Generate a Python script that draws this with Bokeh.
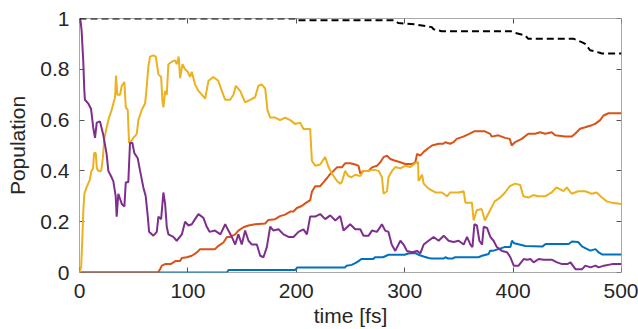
from bokeh.plotting import figure
from bokeh.models import Range1d, FixedTicker, LinearAxis, CustomJSTickFormatter
from bokeh.embed import file_html
from bokeh.resources import INLINE

# ---------------- data ----------------
x_ticks = [0, 100, 200, 300, 400, 500]
y_ticks = [0, 0.2, 0.4, 0.6, 0.8, 1]
x_label = "time [fs]"
y_label = "Population"

blue_t = [0, 136, 137.5, 199, 201, 245, 246.5, 251, 254.4, 257.4, 260, 271, 272.6, 280, 285, 288, 300,
          303.3, 309.5, 312.6, 317.5, 322, 325, 336, 337.5, 340, 344, 346.4, 368, 371.4, 377.5, 378.8,
          382, 386.5, 392, 397.5, 399, 401, 404, 411.4, 427, 430, 451.3, 454.3, 460, 463.5, 467, 471.2,
          476, 479, 482, 500]
blue_v = [0, 0, 0.01, 0.01, 0.02, 0.02, 0.027, 0.03, 0.037, 0.045, 0.053, 0.053, 0.06, 0.06, 0.07, 0.07, 0.07,
          0.075, 0.077, 0.07, 0.063, 0.057, 0.055, 0.055, 0.06, 0.055, 0.055, 0.06, 0.06, 0.066, 0.073, 0.086,
          0.086, 0.092, 0.10, 0.10, 0.125, 0.115, 0.112, 0.104, 0.102, 0.112, 0.112, 0.122, 0.12, 0.103, 0.095, 0.086,
          0.092, 0.079, 0.071, 0.071]

red_t = [0, 72.5, 74.3, 76, 79, 84, 88.5, 92.8, 94.4, 99, 103.6, 106.6, 109.7, 111.2, 125, 128.2, 132.8, 136,
         139, 143.6, 146.6, 151.2, 155.9, 162, 171.3, 174.3, 180.5, 185, 189.7, 194.4, 197.4, 200.5, 205,
         208.2, 212.8, 214.4, 217.4, 222, 225, 228, 231.3, 234.3, 237.5, 242, 245, 249.7, 254.4, 257.4, 259,
         262, 266.7, 269.8, 274.4, 277.5, 280.5, 283.7, 286.7, 291.3, 296, 300.5, 306.7, 309.8, 311.4, 314.4,
         317.5, 322, 325.2, 331.3, 335.6, 337.4, 342, 345, 348, 354, 359.5, 364, 374, 378.8, 380.2, 386.4,
         392.6, 397, 398.7, 401.8, 408, 414, 420.3, 425, 429.6, 435.6, 438.8, 448, 454, 457.2, 461.8, 466.5,
         472.5, 475.7, 480.3, 483.4, 488, 500]
red_v = [0, 0, 0.013, 0.027, 0.033, 0.033, 0.045, 0.045, 0.057, 0.06, 0.066, 0.074, 0.085, 0.092, 0.092, 0.105,
         0.118, 0.14, 0.14, 0.15, 0.165, 0.178, 0.185, 0.19, 0.193, 0.207, 0.21, 0.222, 0.228, 0.24, 0.24, 0.254,
         0.262, 0.272, 0.285, 0.318, 0.34, 0.34, 0.355, 0.37, 0.388, 0.40, 0.414, 0.414, 0.43, 0.43, 0.425, 0.42,
         0.39, 0.40, 0.40, 0.414, 0.42, 0.434, 0.454, 0.46, 0.447, 0.44, 0.434, 0.427, 0.427, 0.434, 0.467, 0.46,
         0.475, 0.49, 0.50, 0.507, 0.507, 0.513, 0.507, 0.513, 0.526, 0.535, 0.546, 0.556, 0.556, 0.546, 0.535,
         0.54, 0.53, 0.526, 0.50, 0.513, 0.526, 0.546, 0.546, 0.552, 0.546, 0.552, 0.54, 0.535, 0.535, 0.546,
         0.566, 0.572, 0.58, 0.585, 0.60, 0.618, 0.627, 0.627]

yellow_t = [0, 1.5, 2.5, 3.5, 4.5, 6.5, 9.5, 11, 12.5, 13.5, 15, 16, 17.5, 20, 21.5, 23, 25, 27.2, 29.7, 31.2,
            32.8, 33.7, 34.9, 37.4, 39, 41.4, 42.7, 44.5, 45.7, 48.2, 49.7, 52.8, 54.3, 57.4, 60.5, 62, 63.5,
            65.1, 68.1, 70.4, 72.8, 75.3, 76.5, 77.4, 79, 80.5, 82, 85.1, 88.2, 89.7, 91.5, 92.8, 95, 97.4,
            99.9, 102, 103.6, 106.6, 109.7, 112.8, 115.9, 119, 123.5, 128, 131.3, 134.4, 139, 142, 144.2, 148.2,
            152.8, 157.4, 162, 165, 168.2, 171.3, 173.4, 175.9, 180.5, 185, 189.7, 194.4, 198.9, 203.6, 206.6,
            212.8, 214.4, 217.4, 222, 226.7, 229.7, 232.9, 237.5, 240.5, 242, 245, 248, 251, 254.4, 259, 262,
            266.7, 271.3, 276, 279, 280.5, 283.7, 285, 288.3, 291.3, 296, 300.5, 305, 309.8, 312.3, 312.8, 316,
            317.5, 322, 328.3, 334.4, 339, 342, 349.8, 354.4, 356, 362, 363.6, 366.4, 371, 374, 377, 380, 383,
            388, 392.6, 397, 401.8, 406.5, 409.5, 414, 418.7, 423, 429.5, 435.6, 440, 446.5, 449.5, 454, 460,
            466.5, 472.5, 477, 482, 486.4, 491, 500]
yellow_v = [0, 0.02, 0.12, 0.24, 0.31, 0.335, 0.365, 0.40, 0.41, 0.47, 0.47, 0.41, 0.40, 0.40, 0.45, 0.53, 0.57,
            0.61, 0.64, 0.665, 0.69, 0.775, 0.70, 0.70, 0.735, 0.75, 0.65, 0.64, 0.51, 0.52, 0.53, 0.545, 0.60,
            0.64, 0.665, 0.73, 0.81, 0.85, 0.855, 0.85, 0.78, 0.77, 0.675, 0.65, 0.715, 0.70, 0.82, 0.83, 0.835,
            0.82, 0.85, 0.765, 0.82, 0.80, 0.79, 0.77, 0.79, 0.74, 0.715, 0.70, 0.685, 0.755, 0.77, 0.755, 0.715,
            0.68, 0.68, 0.70, 0.735, 0.715, 0.67, 0.68, 0.69, 0.735, 0.74, 0.725, 0.64, 0.61, 0.61, 0.60, 0.61,
            0.60, 0.585, 0.59, 0.565, 0.565, 0.44, 0.42, 0.425, 0.455, 0.415, 0.39, 0.36, 0.35, 0.355, 0.40, 0.38,
            0.375, 0.385, 0.38, 0.40, 0.40, 0.405, 0.40, 0.375, 0.31, 0.32, 0.375, 0.40, 0.415, 0.41, 0.42, 0.415,
            0.43, 0.435, 0.36, 0.385, 0.35, 0.33, 0.315, 0.315, 0.30, 0.315, 0.315, 0.32, 0.275, 0.275, 0.205,
            0.245, 0.25, 0.205, 0.23, 0.255, 0.28, 0.295, 0.315, 0.34, 0.35, 0.345, 0.30, 0.295, 0.305, 0.30,
            0.30, 0.315, 0.335, 0.32, 0.335, 0.31, 0.32, 0.32, 0.31, 0.315, 0.295, 0.28, 0.275, 0.27]

purple_t = [0, 1, 2, 2.6, 3.5, 4.4, 5, 8.1, 10.6, 12.7, 14.3, 15.9, 18.9, 22, 25, 26.6, 29, 31.2, 33.4, 34.3,
            35.8, 39, 41.4, 42.7, 45, 46.6, 48.8, 50.6, 53.7, 55.9, 58.9, 61.1, 63, 64.2, 68.1, 71.3, 72.8, 75.3,
            77.4, 79, 80.5, 82, 86.6, 89.7, 94.4, 97.4, 100.5, 103.6, 106.6, 109.7, 114.3, 117.4, 120, 125, 130,
            134.4, 137.4, 140.5, 143.6, 146.6, 149.7, 152.8, 155.9, 159, 163.6, 166.7, 169.7, 172.8, 175.9, 179,
            183.6, 188.2, 192.8, 197.4, 202, 206.6, 209.8, 212.8, 217.4, 222, 226.7, 231.3, 236, 240.5, 243.6,
            249.7, 254.4, 259, 262, 266.7, 269.8, 274.4, 279, 282, 285, 288, 291.3, 296, 299, 302, 306.7, 311.4,
            314.4, 317.5, 322, 326.7, 331.3, 336, 340.5, 345, 349.8, 354.4, 357.5, 360.6, 362.5, 364.3, 366.6,
            368.9, 371.4, 372.9, 376, 379, 382, 385, 389.8, 394.4, 397.5, 400.6, 405, 409.8, 413, 416, 419, 423.6,
            428.3, 436, 440.6, 445.2, 450, 453, 457.5, 463.7, 466.7, 471.4, 476, 479, 483.7, 491.4, 500]
purple_v = [1.0, 0.99, 0.95, 0.90, 0.83, 0.72, 0.68, 0.665, 0.645, 0.57, 0.53, 0.59, 0.595, 0.54, 0.467, 0.40,
            0.38, 0.36, 0.30, 0.22, 0.31, 0.27, 0.26, 0.355, 0.355, 0.51, 0.51, 0.47, 0.45, 0.40, 0.335, 0.30, 0.22,
            0.16, 0.145, 0.16, 0.22, 0.21, 0.315, 0.27, 0.18, 0.15, 0.14, 0.125, 0.15, 0.20, 0.185, 0.19, 0.21, 0.23,
            0.215, 0.18, 0.16, 0.165, 0.15, 0.19, 0.165, 0.14, 0.11, 0.15, 0.11, 0.165, 0.125, 0.11, 0.11, 0.066,
            0.06, 0.10, 0.18, 0.165, 0.17, 0.15, 0.14, 0.14, 0.16, 0.17, 0.15, 0.22, 0.22, 0.23, 0.21, 0.225, 0.205,
            0.222, 0.165, 0.19, 0.17, 0.17, 0.145, 0.145, 0.165, 0.16, 0.19, 0.165, 0.16, 0.11, 0.085, 0.125, 0.11,
            0.085, 0.08, 0.085, 0.075, 0.11, 0.125, 0.14, 0.125, 0.145, 0.125, 0.12, 0.125, 0.11, 0.14, 0.11, 0.10,
            0.19, 0.185, 0.125, 0.11, 0.18, 0.175, 0.14, 0.125, 0.10, 0.085, 0.08, 0.06, 0.027, 0.027, 0.053, 0.05,
            0.053, 0.04, 0.053, 0.05, 0.05, 0.04, 0.033, 0.033, 0.04, 0.013, 0.013, 0.027, 0.02, 0.027, 0.02, 0.027,
            0.033, 0.033]

total_t = [0, 199, 200, 291, 294, 309.5, 325, 326.5, 334, 398, 401.8, 411, 414, 456, 463.3, 466.5, 471, 475.7,
           480, 481.8, 500]
total_v = [1, 1, 0.993, 0.993, 0.982, 0.977, 0.966, 0.958, 0.95, 0.95, 0.943, 0.934, 0.92, 0.92, 0.907, 0.90,
           0.875, 0.87, 0.865, 0.862, 0.862]

# ---------------- styling ----------------
FONT = "Liberation Sans"
TXT = "#262626"
AXC = "#555555"

p = figure(width=638, height=329, output_backend="svg", toolbar_location=None,
           x_range=Range1d(0, 500), y_range=Range1d(0, 1),
           min_border_left=79, min_border_right=17, min_border_top=18, min_border_bottom=57)
p.outline_line_color = None
p.background_fill_color = "white"
p.border_fill_color = "white"
p.xgrid.grid_line_color = None
p.ygrid.grid_line_color = None

ylabels = CustomJSTickFormatter(code="return String(Math.round(tick*10)/10);")
blank = CustomJSTickFormatter(code="return '';")


def box_axis(ax, ticks):
    # axis line + inward ticks, drawn beneath the data (like MATLAB's bottom layer)
    ax.ticker = FixedTicker(ticks=ticks)
    ax.formatter = blank
    ax.level = "underlay"
    ax.axis_line_color = AXC
    ax.axis_line_width = 1
    ax.major_tick_line_color = AXC
    ax.major_tick_in = 5
    ax.major_tick_out = 0
    ax.minor_tick_line_color = None
    ax.major_label_text_font_size = "1px"
    ax.major_label_standoff = 0


def label_axis(ax, ticks, label, standoff, label_standoff):
    ax.ticker = FixedTicker(ticks=ticks)
    ax.axis_line_color = None
    ax.major_tick_line_color = None
    ax.minor_tick_line_color = None
    ax.major_tick_in = 0
    ax.major_tick_out = 0
    ax.major_label_text_font = FONT
    ax.major_label_text_font_size = "21px"
    ax.major_label_text_color = TXT
    ax.major_label_text_line_height = 1.0
    ax.major_label_standoff = standoff
    ax.axis_label = label
    ax.axis_label_text_font = FONT
    ax.axis_label_text_font_size = "21px"
    ax.axis_label_text_font_style = "normal"
    ax.axis_label_text_color = TXT
    ax.axis_label_text_line_height = 1.0
    ax.axis_label_standoff = label_standoff


box_axis(p.xaxis[0], x_ticks)
box_axis(p.yaxis[0], y_ticks)
top = LinearAxis()
box_axis(top, x_ticks)
right = LinearAxis()
box_axis(right, y_ticks)
p.add_layout(top, "above")
p.add_layout(right, "right")

xlab = LinearAxis()
label_axis(xlab, x_ticks, x_label, 11, 3)
ylab = LinearAxis(formatter=ylabels)
label_axis(ylab, y_ticks, y_label, 10, 8)
p.add_layout(xlab, "below")
p.add_layout(ylab, "left")

LW = 2
p.line(blue_t, blue_v, line_color="#0072BD", line_width=LW)
p.line(red_t, red_v, line_color="#D95319", line_width=LW)
p.line(yellow_t, yellow_v, line_color="#EDB120", line_width=LW)
p.line(purple_t, purple_v, line_color="#7E2F8E", line_width=LW)
p.line(total_t, total_v, line_color="black", line_width=LW, line_dash="7 4")

open("out.html", "w").write(file_html(p, INLINE))
